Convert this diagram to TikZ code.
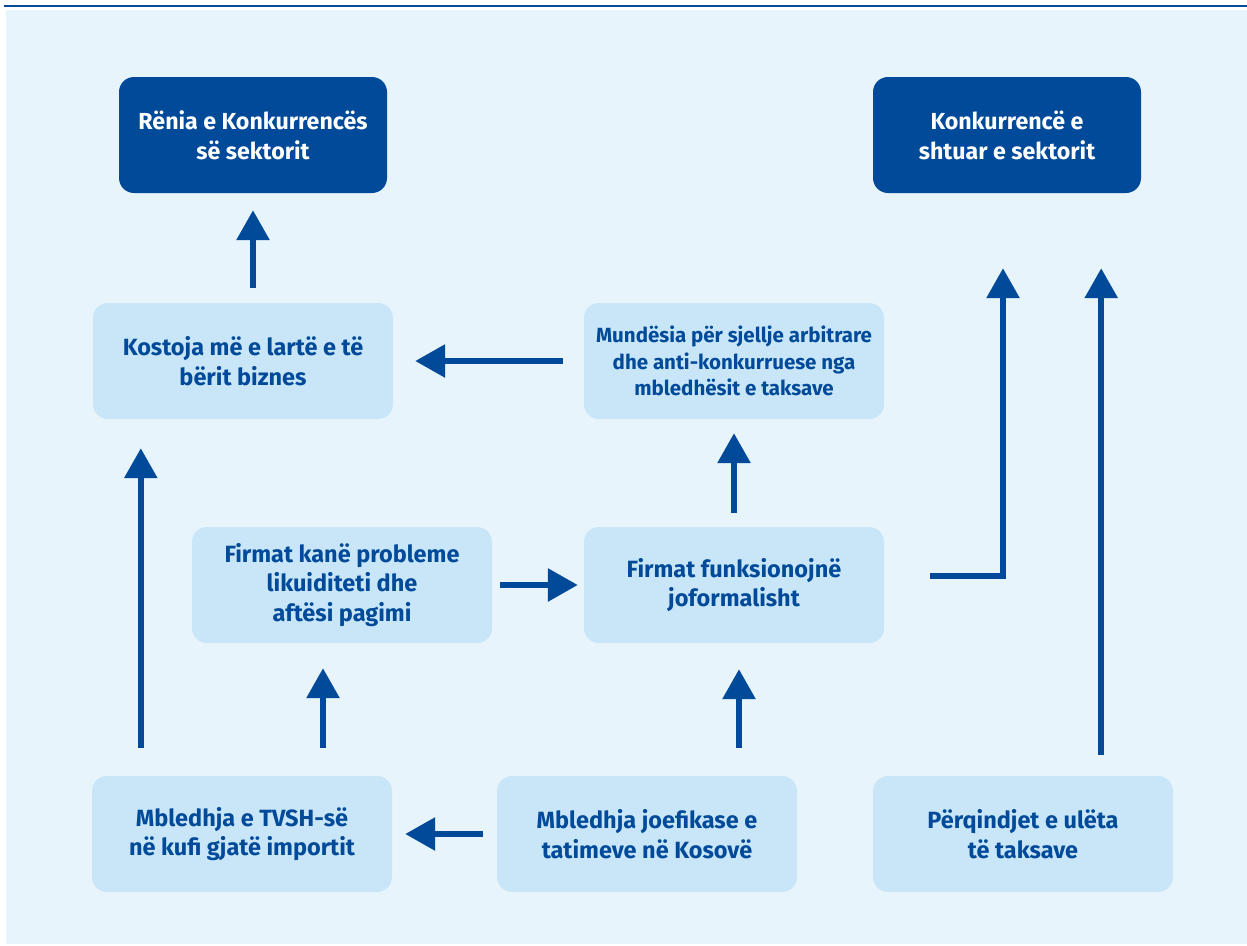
\documentclass[tikz,border=0pt]{standalone}
\usepackage{fontspec}
\setmainfont{Fira Sans}
\usepackage{tikz}
\usetikzlibrary{arrows.meta,positioning,calc}

\definecolor{kblue}{RGB}{0,74,153}
\definecolor{boxlight}{RGB}{200,230,248}
\definecolor{bgblue}{RGB}{232,244,252}

\tikzset{
  box/.style={rectangle, rounded corners=15pt, fill=boxlight, text=kblue,
    minimum width=300pt, minimum height=116pt, align=center, inner sep=0pt,
    font=\bfseries\fontsize{23.5}{29.5}\selectfont},
  smallbox/.style={box, font=\bfseries\fontsize{20.5}{26.5}\selectfont},
  darkbox/.style={box, fill=kblue, text=white, minimum width=268pt,
    font=\bfseries\fontsize{23.2}{30}\selectfont},
  arr/.style={draw=kblue, line width=6pt, -{Triangle[length=30pt,width=32pt]}}
}

\begin{document}
\begin{tikzpicture}[x=1pt, y=-1pt]
  \useasboundingbox (0,0) rectangle (1247,945);
  % background and top rule
  \fill[bgblue] (6,10) rectangle (1247,944);
  \draw[kblue, line width=2.5pt] (4,6) -- (1247,6);
  % outcome boxes
  \node[darkbox] (renia) at (253,135) {Rënia e Konkurrencës\\së sektorit};
  \node[darkbox] (shtuar) at (1007,135) {Konkurrencë e\\shtuar e sektorit};
  % middle boxes
  \node[box] (kostoja) at (243,361) {Kostoja më e lartë e të\\bërit biznes};
  \node[smallbox] (mundesia) at (734,361) {Mundësia për sjellje arbitrare\\dhe anti-konkurruese nga\\mbledhësit e taksave};
  \node[box] (likuid) at (342,585) {Firmat kanë probleme\\likuiditeti dhe\\aftësi pagimi};
  \node[box] (joform) at (734,585) {Firmat funksionojnë\\joformalisht};
  % causes
  \node[box] (tvsh) at (242,834) {Mbledhja e TVSH-së\\në kufi gjatë importit};
  \node[box] (joef) at (647,834) {Mbledhja joefikase e\\tatimeve në Kosovë};
  \node[box] (perq) at (1023,834) {Përqindjet e ulëta\\të taksave};
  % helper coordinates for offset arrows
  \coordinate (c1) at ([xshift=49pt]tvsh.north west);
  \coordinate (c2) at ([xshift=-19pt]likuid.south);
  \coordinate (c3) at ([xshift=5pt]joform.south);
  \coordinate (b1) at ([xshift=-4pt]shtuar.south);
  \coordinate (b2) at ([xshift=-40pt]shtuar.south east);
  % arrows
  \draw[arr, shorten <=15pt, shorten >=17pt] (renia.south |- kostoja.north) -- (renia.south);
  \draw[arr, shorten <=21pt, shorten >=22pt] (mundesia.west) -- (kostoja.east);
  \draw[arr, shorten <=14pt, shorten >=14pt] (joform.north) -- (mundesia.south);
  \draw[arr, shorten <=8pt, shorten >=6pt] (likuid.east) -- (joform.west);
  \draw[arr, shorten <=28pt, shorten >=29pt] (c1) -- (c1 |- kostoja.south);
  \draw[arr, shorten <=28pt, shorten >=25pt] (c2 |- tvsh.north) -- (c2);
  \draw[arr, shorten <=28pt, shorten >=26pt] (c3 |- joef.north) -- (c3);
  \draw[arr, shorten <=14pt, shorten >=13pt] (joef.west) -- (tvsh.east);
  \draw[arr, shorten >=75pt] ([xshift=46pt, yshift=9pt]joform.east) -| (b1);
  \draw[arr, shorten <=21pt, shorten >=75pt] (b2 |- perq.north) -- (b2);
\end{tikzpicture}
\end{document}
